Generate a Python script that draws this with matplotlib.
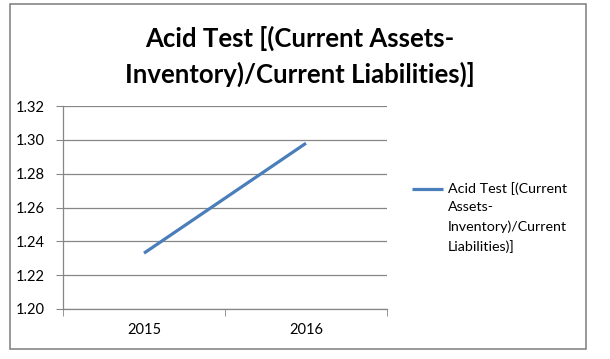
import matplotlib.pyplot as plt
from matplotlib.patches import Rectangle
from matplotlib.lines import Line2D

years = ["2015", "2016"]
acid_test = [1.233, 1.298]
y_ticks = [1.20, 1.22, 1.24, 1.26, 1.28, 1.30, 1.32]
title = "Acid Test [(Current Assets-\nInventory)/Current Liabilities)]"
legend_label = "Acid Test [(Current\nAssets-\nInventory)/Current\nLiabilities)]"

W, H = 610, 359
plt.rcParams['font.family'] = ['Lato', 'DejaVu Sans']

fig = plt.figure(figsize=(W / 100, H / 100), dpi=100)

# outer chart border
fig.patches.append(Rectangle((10 / W, 1 - 349 / H), 576 / W, 345 / H,
                             transform=fig.transFigure, fill=False,
                             edgecolor='#868686', linewidth=1.2))

# plot area in pixels: left 63, right 387, top 106, bottom 309
ax = fig.add_axes([63 / W, 1 - 309 / H, (387 - 63) / W, (309 - 106) / H])

x = list(range(len(years)))
line, = ax.plot(x, acid_test, color='#4a7ebb', linewidth=2.3,
                solid_capstyle='butt', label=legend_label)

ax.set_xlim(-0.5, len(years) - 0.5)
ax.set_ylim(1.20, 1.32)
ax.set_yticks(y_ticks)
ax.set_yticklabels([f"{v:.2f}" for v in y_ticks], fontsize=10.5)
ax.set_xticks(x)
ax.set_xticklabels(years, fontsize=10.5)
ax.set_xticks([-0.5, 0.5, 1.5], minor=True)
ax.tick_params(axis='x', which='major', length=0, pad=10)
ax.tick_params(axis='x', which='minor', length=5, color='#868686', direction='out')
ax.tick_params(axis='y', length=5, color='#868686', pad=8)

ax.grid(axis='y', color='#868686', linewidth=0.9)
ax.set_axisbelow(True)
for side in ['top', 'right']:
    ax.spines[side].set_visible(False)
for side in ['left', 'bottom']:
    ax.spines[side].set_color('#868686')
    ax.spines[side].set_linewidth(0.9)

fig.text(300 / W, 1 - 56 / H, title, ha='center', va='center',
         fontsize=18.5, fontweight='bold', linespacing=1.5)

# legend: handle beside the first line of the wrapped label
fig.lines.append(Line2D([412 / W, 443 / W], [1 - 189 / H, 1 - 189 / H],
                        transform=fig.transFigure, color=line.get_color(),
                        linewidth=2.3, solid_capstyle='butt'))
fig.text(448 / W, 1 - 182 / H, legend_label, ha='left', va='top',
         fontsize=10.3, linespacing=1.65)

fig.savefig("out.png", dpi=100)
